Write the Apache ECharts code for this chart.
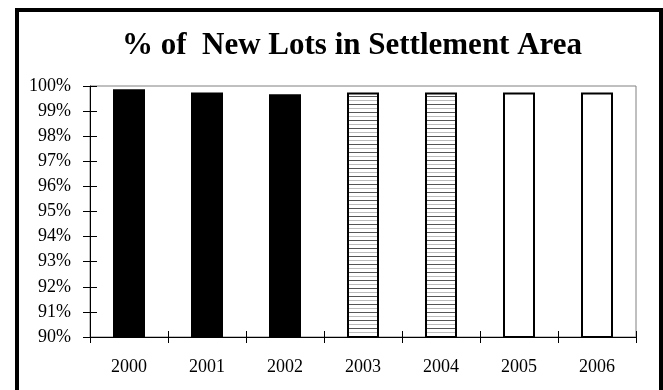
<!DOCTYPE html>
<html>
<head>
<meta charset="utf-8">
<title>% of New Lots in Settlement Area</title>
<script src="https://cdn.jsdelivr.net/npm/echarts@6/dist/echarts.min.js"></script>
<style>
  html, body { margin: 0; padding: 0; background: #fff; }
  #chart { width: 663px; height: 390px; }
</style>
</head>
<body>
<div id="chart"></div>
<script>
// data
const years = ["2000", "2001", "2002", "2003", "2004", "2005", "2006"];
const shareInArea = [99.87, 99.74, 99.67, 99.74, 99.74, 99.74, 99.74];
const yMin = 90;
const yMax = 100;
const yStep = 1;

const serif = "Liberation Serif";

// horizontal stripes used for 2003-2004
const makeHatch = () => {
  const c = document.createElement("canvas");
  c.width = 8;
  c.height = 8;
  const ctx = c.getContext("2d");
  ctx.fillStyle = "#fff";
  ctx.fillRect(0, 0, 8, 8);
  ctx.fillStyle = "#555";
  ctx.fillRect(0, 0, 8, 1);
  ctx.fillStyle = "#bbb";
  ctx.fillRect(0, 4, 8, 1);
  return c;
};
const hatch = { image: makeHatch(), repeat: "repeat" };

// solid black up to 2002, striped 2003-04, empty after
const barStyle = (i) => {
  if (i < 3) return { color: "#000", borderColor: "#000", borderWidth: 0 };
  if (i < 5) return { color: hatch, borderColor: "#000", borderWidth: 2 };
  return { color: "#fff", borderColor: "#000", borderWidth: 2 };
};

const myChart = echarts.init(document.getElementById("chart"), null, { renderer: "canvas" });

const option = {
  animation: false,
  backgroundColor: "#fff",
  title: {
    text: "% of  New Lots in Settlement Area",
    left: 122,
    top: 30,
    padding: 0,
    textStyle: { fontFamily: serif, fontWeight: "bold", fontSize: 31, color: "#000" },
  },
  grid: {
    left: 90,
    right: 27,
    top: 86,
    bottom: 53,
    show: true,
    borderColor: "#808080",
    borderWidth: 1,
    backgroundColor: "transparent",
  },
  xAxis: [
    {
      type: "category",
      data: years,
      axisLine: { lineStyle: { color: "#000", width: 1 } },
      axisTick: { show: true, length: 6, lineStyle: { color: "#000" } },
      axisLabel: { color: "#000", fontFamily: serif, fontSize: 18, margin: 21 },
    },
    {
      type: "category",
      data: years,
      position: "bottom",
      axisLine: { show: false },
      axisTick: { show: true, inside: true, length: 6, lineStyle: { color: "#000" } },
      axisLabel: { show: false },
    },
  ],
  yAxis: [
    {
      type: "value",
      min: yMin,
      max: yMax,
      interval: yStep,
      axisLine: { show: true, lineStyle: { color: "#000", width: 1 } },
      axisTick: { show: true, length: 7, lineStyle: { color: "#000" } },
      splitLine: { show: false },
      axisLabel: {
        color: "#000",
        fontFamily: serif,
        fontSize: 18,
        margin: 19,
        formatter: (v) => v + "%",
      },
    },
    {
      type: "value",
      min: yMin,
      max: yMax,
      interval: yStep,
      position: "left",
      axisLine: { show: false },
      axisTick: { show: true, inside: true, length: 7, lineStyle: { color: "#000" } },
      splitLine: { show: false },
      axisLabel: { show: false },
    },
  ],
  series: [
    {
      name: "% of New Lots in Settlement Area",
      type: "bar",
      barWidth: 32,
      data: shareInArea.map((v, i) => ({ value: v, itemStyle: barStyle(i) })),
    },
  ],
  graphic: [
    {
      type: "rect",
      silent: true,
      z: 100,
      shape: { x: 17, y: 10, width: 644, height: 420 },
      style: { fill: "none", stroke: "#000", lineWidth: 4 },
    },
  ],
};

myChart.setOption(option, true);
</script>
</body>
</html>
